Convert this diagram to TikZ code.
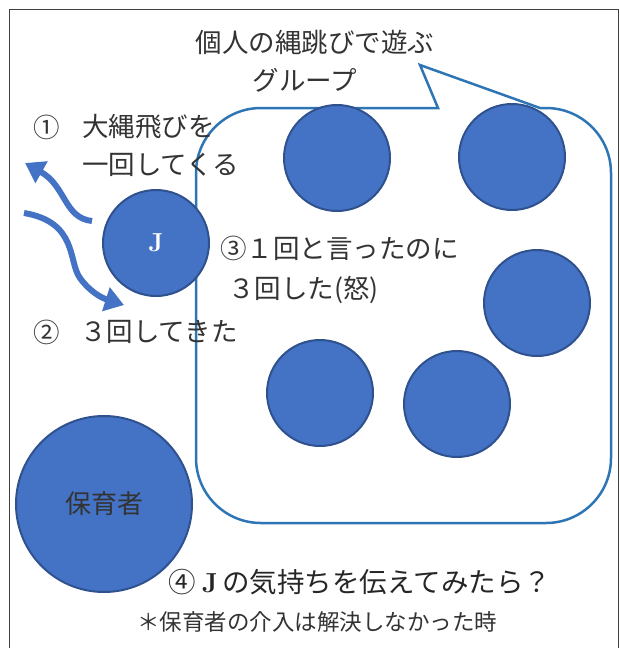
\documentclass[tikz,border=0pt]{standalone}
\usepackage{fontspec}
\newfontfamily\jp{Noto Sans CJK JP}
\newfontfamily\lmr{Latin Modern Roman}
\usetikzlibrary{arrows.meta}
\definecolor{fillblue}{HTML}{4472C4}
\definecolor{edgeblue}{HTML}{2F528F}
\definecolor{callblue}{HTML}{2E75B6}
\definecolor{txtgray}{HTML}{333333}
\tikzset{
  kid/.style={circle, fill=fillblue, draw=edgeblue, line width=2pt, minimum size=106pt, inner sep=0pt},
  big/.style={kid, minimum size=176pt},
  txt/.style={font=\jp\fontsize{26.5}{30}\selectfont, text=txtgray, inner sep=0pt},
  small/.style={font=\jp\fontsize{22.5}{26}\selectfont, text=txtgray, inner sep=0pt},
  bluearrow/.style={draw=fillblue, line width=6pt, -{Triangle[length=19pt,width=24pt]}},
}
\begin{document}
\begin{tikzpicture}[x=1pt,y=1pt]
\useasboundingbox (0,0) rectangle (619,-648);
% frame
\draw[black!75, line width=1pt] (9,-648) -- (9,-9.5) -- (618,-9.5) -- (618,-648);
% callout rounded rectangle
\draw[callblue, line width=2.5pt, line join=miter]
  (438,-108) -- (420,-65) -- (540,-108) -- (546,-108)
  arc[start angle=90, end angle=0, radius=65pt] -- (611,-458)
  arc[start angle=0, end angle=-90, radius=65pt] -- (261,-523)
  arc[start angle=-90, end angle=-180, radius=65pt] -- (196,-173)
  arc[start angle=180, end angle=90, radius=65pt] -- cycle;
% group children
\node[kid] (g1) at (337,-158) {};
\node[kid] (g2) at (512,-157) {};
\node[kid] (g3) at (537,-303) {};
\node[kid] (g4) at (320,-393) {};
\node[kid] (g5) at (457,-404) {};
% J
\node[kid, font=\lmr\bfseries\fontsize{26}{28}\selectfont, text=white] (j) at (156,-243) {J};
% caregiver
\node[big, font=\jp\fontsize{26}{30}\selectfont, text=txtgray] (hoiku) at (104,-504) {保育者};
% arrows
\draw[bluearrow] (92,-221) .. controls (64,-218) and (66,-186) .. (25,-163);
\draw[bluearrow] (24,-213) .. controls (78,-222) and (68,-262) .. (80,-278) .. controls (90,-292) and (102,-298) .. (124,-305);
% texts
\node[txt] (t1) at (315,-42) {個人の縄跳びで遊ぶ};
\node[txt] (t2) at (305,-80) {グループ};
\node[txt] (c1) at (47,-127) {①};
\node[txt, anchor=west] (t3) at (82,-127) {大縄飛びを};
\node[txt, anchor=west] (t4) at (82,-165) {一回してくる};
\node[txt] (c2) at (47,-332) {②};
\node[txt, anchor=west] (t5) at (80,-332) {３回してきた};
\node[txt, anchor=west] (t6) at (220,-248) {③１回と言ったのに};
\node[txt, anchor=west] (t7) at (228,-290) {３回した(怒)};
\node[txt, anchor=west, text=black!85, font=\jp\fontsize{27.5}{30}\selectfont] (t8) at (168,-582) {④ {\lmr\bfseries\fontsize{27.5}{30}\selectfont J\,}の気持ちを伝えてみたら？};
\node[small, anchor=west] (t9) at (137,-622) {＊保育者の介入は解決しなかった時};
\end{tikzpicture}
\end{document}
